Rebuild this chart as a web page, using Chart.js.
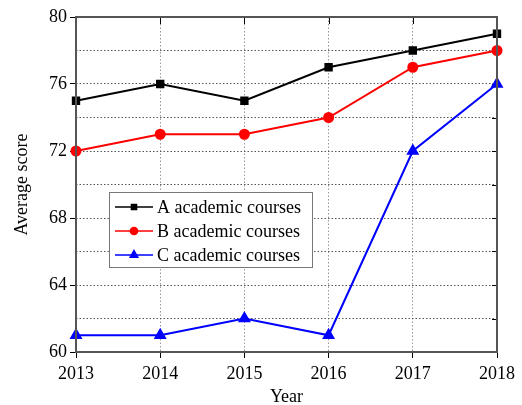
<!DOCTYPE html>
<html><head><meta charset="utf-8">
<script src="https://cdn.jsdelivr.net/npm/chart.js@4.4.1/dist/chart.umd.min.js"></script>
<style>html,body{margin:0;padding:0;background:#fff}#wrap{width:522px;height:405px}</style>
</head><body><div id="wrap"><canvas id="c" width="522" height="405"></canvas></div>
<script>
const years = [2013, 2014, 2015, 2016, 2017, 2018];
const seriesA = [75, 76, 75, 77, 78, 79];
const seriesB = [72, 73, 73, 74, 77, 78];
const seriesC = [61, 61, 62, 61, 72, 76];
const seriesLabels = ['A academic courses', 'B academic courses', 'C academic courses'];
const yTickLabels = [60, 64, 68, 72, 76, 80];

const FONT = 'Liberation Serif';

const framePlugin = {
  id: 'frame',
  beforeDatasetsDraw(chart) {
    const {ctx, chartArea: a, scales: {x, y}} = chart;
    ctx.save();
    ctx.strokeStyle = '#000';
    ctx.lineWidth = 1;
    for (let v = 62; v < 80; v += 2) {
      const py = Math.round(y.getPixelForValue(v)) + 0.5;
      ctx.beginPath(); ctx.moveTo(a.right, py); ctx.lineTo(a.right - 5, py); ctx.stroke();
    }
    years.slice(1, -1).forEach(v => {
      const px = Math.round(x.getPixelForValue(v)) + 0.5;
      ctx.beginPath(); ctx.moveTo(px, a.top); ctx.lineTo(px, a.top + 7); ctx.stroke();
    });
    ctx.restore();
  },
  afterDraw(chart) {
    const {ctx, chartArea: a} = chart;
    ctx.save();
    ctx.strokeStyle = '#555';
    ctx.lineWidth = 2;
    ctx.strokeRect(a.left, a.top, a.right - a.left, a.bottom - a.top);
    ctx.restore();
  }
};

const legendPlugin = {
  id: 'innerLegend',
  afterDatasetsDraw(chart) {
    const {ctx} = chart;
    const bx = 109, by = 192, bw = 203, bh = 75;
    ctx.save();
    ctx.fillStyle = '#fff';
    ctx.fillRect(bx, by, bw, bh);
    ctx.strokeStyle = '#777';
    ctx.lineWidth = 1;
    ctx.strokeRect(bx + 0.5, by + 0.5, bw, bh);
    ctx.font = '18px "' + FONT + '"';
    ctx.textBaseline = 'middle';
    chart.data.datasets.forEach((ds, i) => {
      const cy = by + 15 + i * 24;
      ctx.strokeStyle = ds.borderColor;
      ctx.lineWidth = 1.5;
      ctx.beginPath(); ctx.moveTo(bx + 6, cy); ctx.lineTo(bx + 44, cy); ctx.stroke();
      ctx.fillStyle = ds.borderColor;
      Chart.helpers.drawPoint(ctx, {pointStyle: ds.pointStyle, radius: ds.pointRadius * 0.8, rotation: 0, borderWidth: 1}, bx + 25, cy);
      ctx.fill();
      ctx.fillStyle = '#000';
      ctx.fillText(ds.label, bx + 48, cy + 1);
    });
    ctx.restore();
  }
};

function mk(label, data, color, style, r) {
  return {label, data: years.map((yr, i) => ({x: yr, y: data[i]})), borderColor: color, backgroundColor: color,
    pointBackgroundColor: color, pointBorderColor: color, pointStyle: style, pointRadius: r, pointHoverRadius: r,
    borderWidth: 2, tension: 0, clip: false};
}

new Chart(document.getElementById('c'), {
  type: 'line',
  data: {datasets: [
    mk(seriesLabels[0], seriesA, '#000000', 'rect', 4.5),
    mk(seriesLabels[1], seriesB, '#ff0000', 'circle', 4.5),
    mk(seriesLabels[2], seriesC, '#0000ff', 'triangle', 5.5)
  ]},
  options: {
    responsive: false, animation: false,
    layout: {padding: {left: 0, top: 17, right: 25, bottom: -3}},
    plugins: {legend: {display: false}, tooltip: {enabled: false}},
    scales: {
      x: {
        type: 'linear', min: 2013, max: 2018,
        afterFit(s) { s.height = 56; },
        border: {display: false, dash: [1.5, 2]},
        grid: {color: '#999', tickBorderDash: [], tickLength: 6, tickColor: '#000', lineWidth: 1},
        ticks: {stepSize: 1, color: '#000', padding: 5, font: {family: FONT, size: 18}, callback: v => String(v), maxRotation: 0},
        title: {display: true, text: 'Year', color: '#000', font: {family: FONT, size: 18}, padding: {top: 7, bottom: 0}}
      },
      y: {
        min: 60, max: 80,
        afterFit(s) { s.width = 76; },
        border: {display: false, dash: [1.5, 2]},
        grid: {color: '#555', tickBorderDash: [], tickLength: 6,
          tickColor: c => (c.tick && yTickLabels.includes(c.tick.value)) ? '#000' : 'rgba(0,0,0,0)'},
        ticks: {stepSize: 2, color: '#000', padding: 3, font: {family: FONT, size: 18},
          callback: v => yTickLabels.includes(v) ? String(v) : ''},
        title: {display: true, text: 'Average score', color: '#000', font: {family: FONT, size: 18}, padding: {top: 11, bottom: 0}}
      }
    }
  },
  plugins: [framePlugin, legendPlugin]
});
</script></body></html>
